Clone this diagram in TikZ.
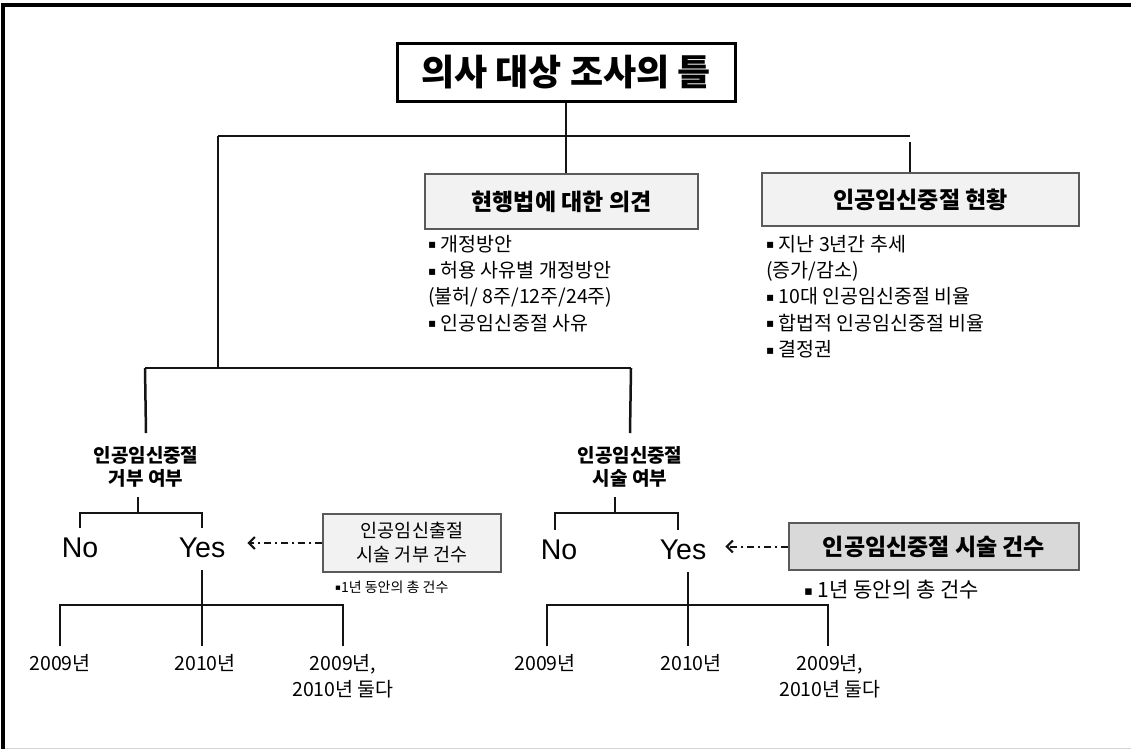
\documentclass[tikz,border=0pt]{standalone}
\usepackage{fontspec}
\usepackage{graphicx}
\setmainfont{Noto Sans CJK KR}
\newfontfamily\ynfont{Liberation Sans}
\newfontfamily\bulfont{DejaVu Sans}
\usepackage{tikz}
\usetikzlibrary{positioning,arrows.meta,calc}
\definecolor{boxFill}{HTML}{F2F2F2}
\definecolor{boxFillDk}{HTML}{D9D9D9}
\definecolor{boxLine}{HTML}{5A5A5A}
\definecolor{lineDk}{HTML}{141414}
\definecolor{frameLt}{HTML}{D4D4D4}
\newcommand{\sqbul}{\raisebox{0.12em}{\scalebox{0.62}{\bulfont ▪}}}
\tikzset{
  titlenode/.style={draw, line width=3pt, minimum width=338pt, minimum height=58pt,
                    inner sep=0pt, font=\bfseries\fontsize{36}{40}\selectfont},
  catnode/.style={draw=boxLine, fill=boxFill, line width=1.3pt, inner sep=0pt,
                  font=\bfseries\fontsize{23}{26}\selectfont},
  cntnode/.style={draw=boxLine, fill=boxFill, line width=1.3pt, inner sep=0pt,
                  align=center, font=\fontsize{18.5}{24}\selectfont},
  qnode/.style={inner sep=0pt, align=center, font=\bfseries\fontsize{19}{23}\selectfont},
  ynnode/.style={inner sep=0pt, font=\ynfont\fontsize{28.5}{30}\selectfont},
  yrnode/.style={inner sep=0pt, anchor=north, align=center,
                 font=\fontsize{19.5}{26}\selectfont},
  bulletlist/.style={inner sep=0pt, anchor=north west, align=left,
                     font=\fontsize{19.5}{26.3}\selectfont},
  treeline/.style={lineDk, line width=2.5pt},
  dasharrow/.style={lineDk, line width=2pt, dash pattern=on 7pt off 4pt on 2pt off 4pt,
                    -{Straight Barb[length=6pt,width=12pt,line width=2pt]}},
}

\begin{document}
\begin{tikzpicture}[x=1pt, y=-1pt]
\useasboundingbox (0,0) rectangle (1131,750);
%% frame
\draw[frameLt, line width=1pt] (3,748) -- (1131,748);
\draw[line width=3.2pt] (3,749) -- (3,5) -- (1131,5);

%% top level
\node[titlenode] (title) at (566,72) {의사 대상 조사의 틀};
\node[catnode, minimum width=273pt, minimum height=55pt] (opin) at (561.5,201.5) {현행법에 대한 의견};
\node[catnode, minimum width=317pt, minimum height=53pt] (stat) at (920.5,199.5) {인공임신중절 현황};
\coordinate (topL) at (218,136);
\coordinate (topR) at (910,136);
\coordinate (topRb) at (910,142);
\draw[treeline] (title.south) -- (title.south |- opin.north);
\draw[treeline] (topL) -- (topR);
\draw[treeline] (topRb) -- (topRb |- stat.north);

\node[bulletlist] (opinlist) at (428,235)
  {\sqbul\ 개정방안\\ \sqbul\ 허용 사유별 개정방안\\(불허/ 8주/12주/24주)\\ \sqbul\ 인공임신중절 사유};
\node[bulletlist] (statlist) at (766,235)
  {\sqbul\ 지난 3년간 추세\\ (증가/감소)\\ \sqbul\ 10대 인공임신중절 비율\\ \sqbul\ 합법적 인공임신중절 비율\\ \sqbul\ 결정권};

%% middle split
\coordinate (midL) at (145,368);
\coordinate (midR) at (631,368);
\draw[treeline] (topL) -- (topL |- midL);
\draw[treeline] (midL) -- (midR);
\node[qnode, anchor=north] (refq) at (146,446) {인공임신중절\\거부 여부};
\node[qnode, anchor=north] (doq) at (630,446) {인공임신중절\\시술 여부};
\draw[treeline] (midL) -- ([yshift=13pt]refq.north);
\draw[treeline] (midR) -- ([yshift=13pt]doq.north);

%% Left branch: refusal
\coordinate (stemL) at (138,497);
\coordinate (forkL) at (138,513);
\node[ynnode] (noL) at (80,548) {No};
\node[ynnode] (yesL) at (202,548) {Yes};
\draw[treeline] (stemL) -- (forkL);
\draw[treeline] ([yshift=10pt]noL.north) |- (forkL) -| ([yshift=10pt]yesL.north);
\node[cntnode, minimum width=178pt, minimum height=58pt] (refcnt) at (412,543) {인공임신출절\\시술 거부 건수};
\node[inner sep=0pt, anchor=west, font=\fontsize{14}{16}\selectfont] (refnote) at (335,587) {\sqbul 1년 동안의 총 건수};
\draw[dasharrow, shorten >=22pt] (refcnt.west) -- (refcnt.west -| yesL.east);

\node[yrnode] (yrL1) at (60,654) {2009년};
\node[yrnode] (yrL2) at (205,654) {2010년};
\node[yrnode] (yrL3) at (343,654) {2009년,\\2010년 둘다};
\coordinate (yforkL) at (202,605);
\draw[treeline] ([yshift=-12pt]yesL.south) -- ([yshift=8pt]yesL.south |- yrL2.north);
\draw[treeline] ([yshift=8pt]yrL1.north) |- (yforkL) -| ([yshift=8pt]yrL3.north);

%% Right branch: procedure
\coordinate (stemR) at (615,497);
\coordinate (forkR) at (615,513);
\node[ynnode] (noR) at (559,550) {No};
\node[ynnode] (yesR) at (683,550) {Yes};
\draw[treeline] (stemR) -- (forkR);
\draw[treeline] ([yshift=10pt]noR.north -| 555,0) |- (forkR) -| ([yshift=10pt]yesR.north -| 678,0);
\node[cntnode, fill=boxFillDk, minimum width=290pt, minimum height=47pt,
      font=\bfseries\fontsize{23}{26}\selectfont] (cnt) at (934,546.5) {인공임신중절 시술 건수};
\node[inner sep=0pt, anchor=west, font=\fontsize{21}{24}\selectfont] (cntnote) at (804,590) {\sqbul\ 1년 동안의 총 건수};
\draw[dasharrow, shorten >=19pt] (cnt.west) -- (cnt.west -| yesR.east);

\node[yrnode] (yrR1) at (545,654) {2009년};
\node[yrnode] (yrR2) at (691,654) {2010년};
\node[yrnode] (yrR3) at (830,654) {2009년,\\2010년 둘다};
\coordinate (yforkR) at (688,605);
\draw[treeline] ([yshift=-12pt]yesR.south -| yforkR) -- ([yshift=8pt]yforkR |- yrR2.north);
\draw[treeline] ([yshift=8pt]yrR1.north -| 547,0) |- (yforkR) -| ([yshift=8pt]yrR3.north -| 828,0);
\end{tikzpicture}
\end{document}
